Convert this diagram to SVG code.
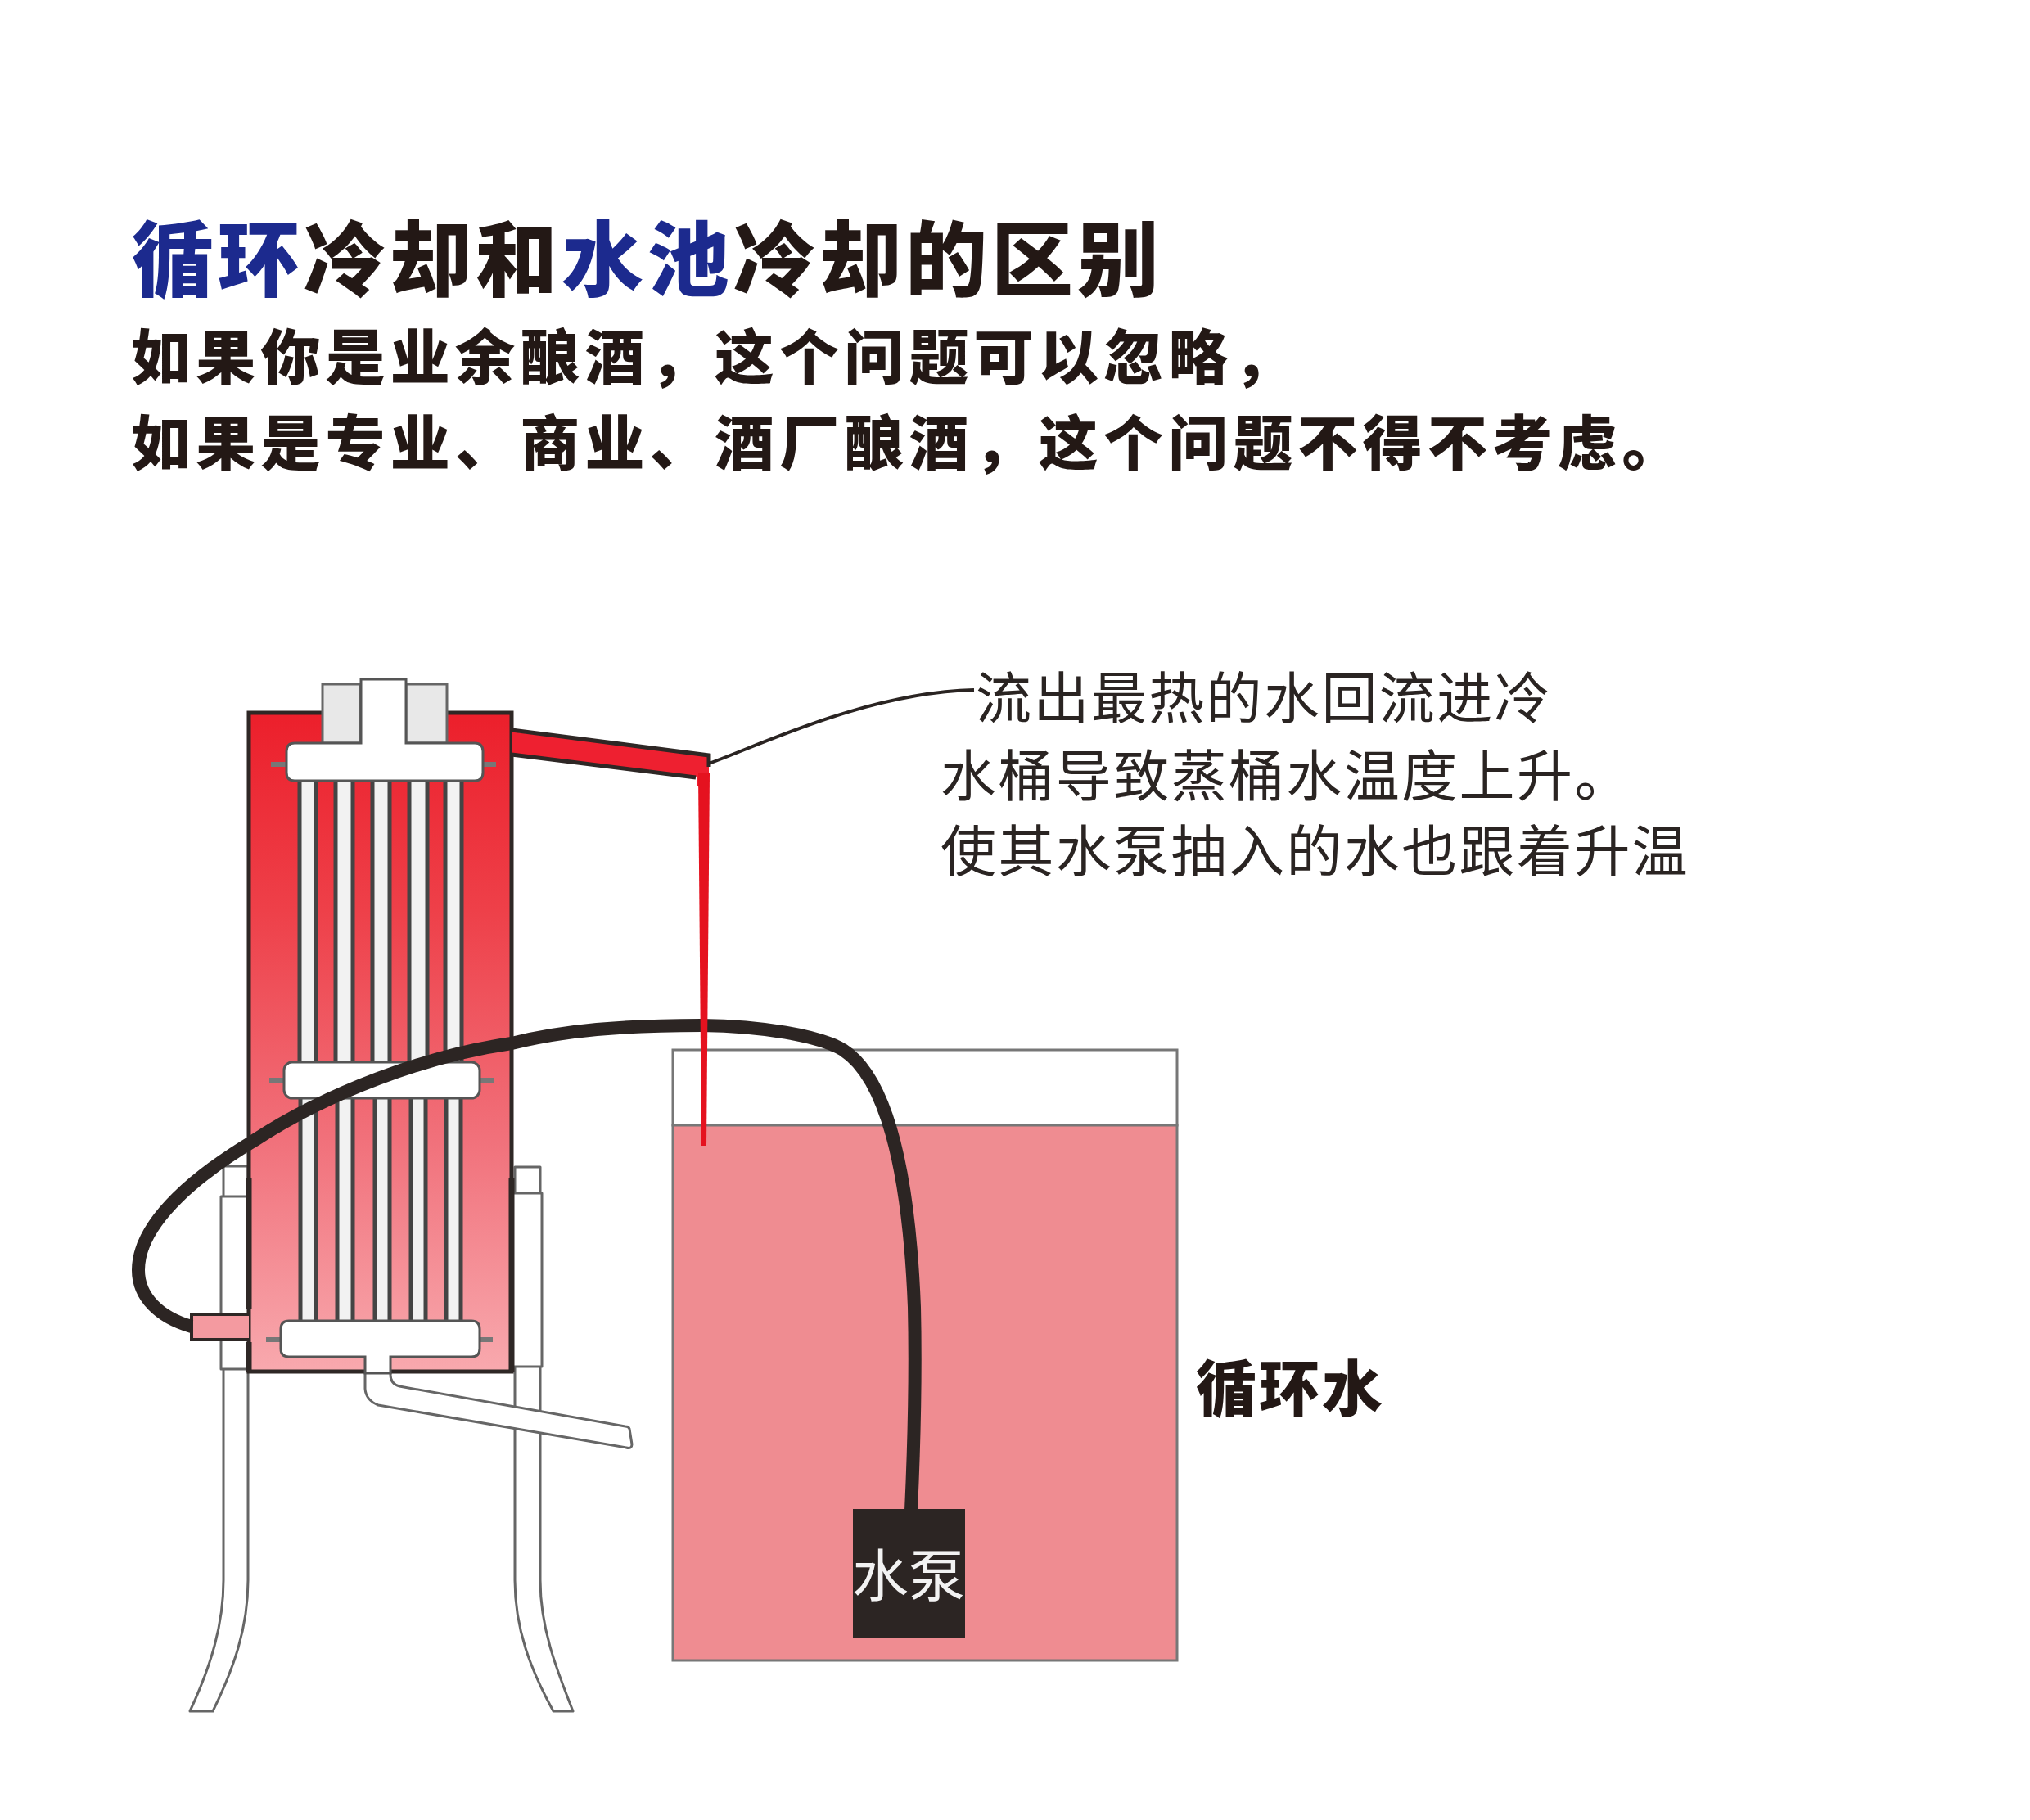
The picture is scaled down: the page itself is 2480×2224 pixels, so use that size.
<svg xmlns="http://www.w3.org/2000/svg" width="2480" height="2224" viewBox="0 0 2480 2224">
<style>
text{font-family:"Noto Sans CJK SC","Liberation Sans",sans-serif}
.title{font-size:100px;font-weight:900;letter-spacing:5px;fill:#231815}
.blue{fill:#1c2a8e}
.sub{font-size:73px;font-weight:900;letter-spacing:6.2px;fill:#231815}
.note{font-size:68px;font-weight:400;letter-spacing:2.4px;fill:#2a2422}
.thin{fill:#fff;stroke:#666;stroke-width:3;stroke-linejoin:round}
.gray{fill:#e8e8e8;stroke:#666;stroke-width:3}
.tube{fill:#f2f2f2;stroke:#444;stroke-width:5}
.man{fill:#fff;stroke:#555;stroke-width:3}
.stub{fill:none;stroke:#777;stroke-width:6}
.hose{fill:none;stroke:#2c2523;stroke-width:16;stroke-linecap:butt}
</style>
<defs>
<linearGradient id="hot" x1="0" y1="0" x2="0" y2="1">
<stop offset="0" stop-color="#ec1f2b"/><stop offset="0.3" stop-color="#ee4049"/><stop offset="0.65" stop-color="#f1717b"/><stop offset="1" stop-color="#f8a9ae"/>
</linearGradient>
</defs>
<rect width="2480" height="2224" fill="#fff"/>
<g id="heading">
<text class="title" x="161" y="354"><tspan class="blue">循环</tspan>冷却和<tspan class="blue">水池</tspan>冷却的区别</text>
<text class="sub" x="160" y="463">如果你是业余酿酒，这个问题可以忽略，</text>
<text class="sub" x="160" y="568">如果是专业、商业、酒厂酿酒，这个问题不得不考虑。</text>
</g>
<g id="legs">
<path class="thin" d="M273 1425H303V1931C303 1990 285 2040 260 2091H232C258 2035 273 1985 273 1931Z"/>
<path class="thin" d="M629 1426H660V1931C660 1990 680 2040 700 2091H676C648 2040 629 1990 629 1931Z"/>
<rect class="thin" x="270" y="1462" width="34" height="211"/>
<rect class="thin" x="626" y="1458" width="36" height="212"/>
</g>
<g id="outlet">
<path class="thin" d="M446 1650V1697Q447 1711 462 1717L765 1769Q772 1771 772 1765L769 1746Q768 1743 764 1743L488 1694Q477 1691 477 1680V1650Z"/>
</g>
<g id="condenser">
<rect x="304" y="871" width="321" height="805" fill="url(#hot)" stroke="#2e2725" stroke-width="5"/>
<path d="M304 1440V1600M304 1640V1676M625 1440V1676" fill="none" stroke="#2e2725" stroke-width="7"/>
<path fill="#f49aa0" stroke="#2e2725" stroke-width="4" d="M304 1606H234V1637H304"/>
<g id="upper-tubes">
<rect class="tube" x="366" y="950" width="20" height="352"/>
<rect class="tube" x="410" y="950" width="21" height="352"/>
<rect class="tube" x="455" y="950" width="21" height="352"/>
<rect class="tube" x="500" y="950" width="22" height="352"/>
<rect class="tube" x="544" y="950" width="20" height="352"/>
</g>
<g id="lower-tubes">
<rect class="tube" x="367" y="1340" width="19" height="276"/>
<rect class="tube" x="412" y="1340" width="19" height="276"/>
<rect class="tube" x="458" y="1340" width="18" height="276"/>
<rect class="tube" x="502" y="1340" width="18" height="276"/>
<rect class="tube" x="545" y="1340" width="18" height="276"/>
</g>
<g id="manifold-top">
<path class="stub" d="M331 934H350M590 934H606"/>
<rect class="gray" x="394" y="836" width="46" height="72"/>
<rect class="gray" x="496" y="836" width="50" height="72"/>
<path class="man" d="M441 908V830H496V908H580Q590 908 590 918V944Q590 954 580 954H360Q350 954 350 944V918Q350 908 360 908Z"/>
</g>
<g id="manifold-middle">
<path class="stub" d="M329 1320H347M586 1320H603"/>
<rect class="man" x="347" y="1298" width="239" height="44" rx="10"/>
</g>
<g id="manifold-bottom">
<path class="stub" d="M325 1637H343M586 1637H602"/>
<path class="man" d="M353 1614H576Q586 1614 586 1624V1648Q586 1658 576 1658H477V1678H446V1658H353Q343 1658 343 1648V1624Q343 1614 353 1614Z"/>
</g>
</g>
<g id="bucket">
<rect x="822" y="1283" width="616" height="92" fill="#fff" stroke="#777" stroke-width="3"/>
<rect x="822" y="1375" width="616" height="654" fill="#ef8c91" stroke="#777" stroke-width="3"/>
</g>
<g id="pipes">
<path class="hose" d="M234 1621C195 1610 169 1585 169 1552C169 1490 250 1430 310 1394C400 1335 520 1290 625 1275C690 1259 760 1253 857 1253C930 1254 1000 1265 1030 1283C1080 1315 1110 1420 1117 1597C1119 1680 1117 1760 1113 1846"/>
<path d="M625 894L866 924V960H852V949L625 921Z" fill="#ee2030"/>
<path d="M625 892L866 923V937M625 922L850 950" fill="none" stroke="#2e2725" stroke-width="5"/>
<path d="M853 945H867L863 1400H857Z" fill="#e5121f"/>
<path d="M866 933C930 910 1060 846 1190 843" fill="none" stroke="#2a2422" stroke-width="4"/>
</g>
<g id="pump">
<rect x="1042" y="1844" width="137" height="158" fill="#2c2523"/>
<text x="1110" y="1951" text-anchor="middle" font-size="69" font-weight="400" fill="#f2f2f2">水泵</text>
</g>
<g id="labels">
<text x="1461" y="1724" font-size="74" font-weight="900" letter-spacing="3" fill="#231815">循环水</text>
<text class="note" x="1192" y="878">流出最热的水回流进冷</text>
<text class="note" x="1149" y="973">水桶导致蒸桶水温度上升。</text>
<text class="note" x="1149" y="1065">使其水泵抽入的水也跟着升温</text>
</g>
</svg>
